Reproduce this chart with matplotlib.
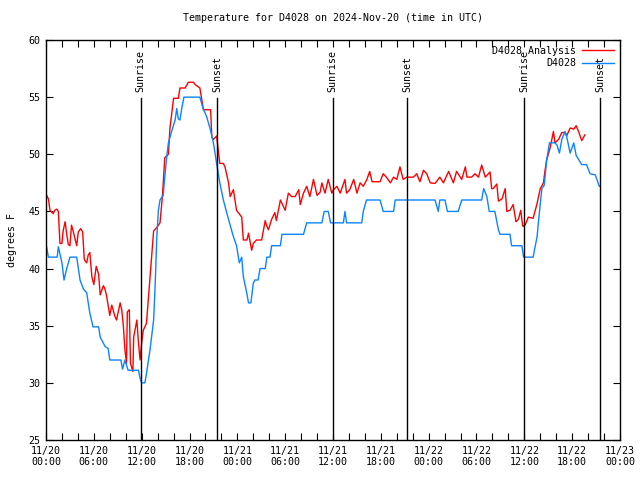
import matplotlib
matplotlib.use("Agg")
import matplotlib.pyplot as plt
from matplotlib.lines import Line2D

# hours since 2024-11-20 00:00 UTC
analysis_t = [0.08,0.3,0.5,0.9,1.1,1.35,1.55,1.75,2.0,2.15,2.4,2.6,2.8,3.0,3.2,3.4,3.65,3.85,4.05,4.35,4.6,4.8,5.1,5.3,5.5,5.75,6.0,6.3,6.6,6.8,7.2,7.4,7.6,8.0,8.25,8.65,8.85,9.3,9.5,9.7,9.9,10.1,10.2,10.45,10.6,10.9,11.0,11.4,11.6,11.8,12.0,12.2,12.6,13.05,13.5,13.9,14.3,14.6,14.9,15.35,15.55,16.0,16.6,16.8,17.45,17.85,18.5,18.7,19.3,19.75,20.65,20.8,21.0,21.4,21.8,22.25,22.45,22.9,23.1,23.5,23.9,24.55,24.75,25.2,25.4,25.8,26.0,26.4,27.05,27.5,27.7,27.9,28.3,28.7,28.9,29.4,29.6,30.0,30.4,30.8,31.25,31.7,31.9,32.3,32.7,33.1,33.55,34.0,34.4,34.6,35.0,35.4,35.85,36.05,36.5,36.9,37.5,37.7,38.1,38.6,39.0,39.4,39.8,40.25,40.6,40.9,41.9,42.3,42.7,43.2,43.6,44.0,44.4,44.8,45.25,46.1,46.5,46.9,47.35,47.75,48.2,48.8,49.4,49.85,50.5,51.1,51.5,52.15,52.6,52.8,53.4,53.8,54.25,54.65,55.1,55.5,55.7,55.9,56.1,56.55,56.75,57.2,57.6,57.8,58.2,58.6,58.95,59.25,59.55,59.8,60.1,60.5,61.1,61.6,62.0,62.4,62.6,62.8,63.25,63.65,63.85,64.3,64.7,65.1,65.3,65.75,66.2,66.5,66.8,67.2,67.6]
analysis_v = [46.4,46.1,45.1,44.8,45.1,45.2,45.0,42.2,42.2,43.3,44.1,43.0,42.1,42.0,43.8,43.3,42.6,42.0,43.2,43.5,43.2,40.8,40.5,41.2,41.4,39.3,38.6,40.2,39.5,37.7,38.5,38.2,37.6,35.9,36.8,35.8,35.5,37.0,36.4,35.0,32.9,31.7,36.2,36.4,31.7,31.0,34.0,35.5,33.5,32.0,33.5,34.6,35.2,39.3,43.3,43.6,44.0,46.3,49.7,50.0,52.3,54.9,54.9,55.8,55.8,56.3,56.3,56.1,55.8,53.9,53.9,51.5,51.3,51.6,49.2,49.2,48.9,47.5,46.3,46.9,45.1,44.5,42.5,42.5,43.1,41.6,42.2,42.5,42.5,44.2,43.7,43.4,44.3,44.9,44.2,46.0,45.7,45.1,46.6,46.3,46.3,46.9,45.6,46.6,47.2,46.3,47.8,46.4,46.7,47.5,46.6,47.8,46.6,46.9,47.2,46.6,47.8,46.6,46.9,47.8,46.6,47.5,47.2,47.8,48.5,47.6,47.6,48.3,48.0,47.5,48.0,47.8,48.9,47.8,48.0,48.0,48.3,47.6,48.6,48.3,47.5,47.45,48.0,47.5,48.5,47.5,48.5,47.8,48.9,48.0,48.0,48.3,48.0,49.06,48.0,48.3,48.45,47.0,47.0,47.4,45.9,46.1,47.0,45.0,45.1,45.6,44.1,44.3,45.1,43.7,43.8,44.5,44.4,45.7,47.0,47.5,48.6,49.5,50.6,52.0,51.0,51.3,51.9,51.9,51.6,52.3,52.2,52.5,52.0,51.2,51.7]

obs_t = [0.08,0.3,1.4,1.55,2.0,2.26,2.6,3.0,3.85,4.27,4.7,5.1,5.5,5.9,6.6,6.8,7.4,7.8,8.0,9.4,9.6,9.9,10.3,11.6,11.8,12.0,12.4,12.6,13.05,13.5,13.7,13.9,14.1,14.3,14.7,14.9,15.15,15.35,15.8,16.2,16.4,16.6,16.8,17.0,17.3,19.3,19.7,20.15,20.6,21.0,21.4,21.8,22.25,22.7,23.1,23.5,23.9,24.25,24.55,24.75,25.2,25.4,25.7,26.0,26.2,26.6,26.85,27.5,27.7,28.1,28.3,29.4,29.6,32.3,32.7,34.6,34.9,35.4,35.7,37.3,37.5,37.7,39.6,39.8,40.2,41.9,42.3,43.6,43.8,48.8,49.2,49.4,50.05,50.35,51.7,52.15,54.65,54.9,55.3,55.6,56.3,56.75,56.95,58.2,58.4,59.7,59.9,61.1,61.6,61.8,62.2,62.5,62.8,63.15,63.85,64.1,64.4,64.7,65.1,65.3,65.75,66.2,66.5,67.2,67.8,68.25,68.9,69.4]
obs_v = [41.9,41.0,41.0,41.9,40.5,39.0,40.0,41.0,41.0,39.0,38.2,37.9,36.1,34.9,34.9,34.0,33.2,33.0,32.0,32.0,31.2,32.0,31.1,31.1,30.4,30.0,30.0,30.8,32.9,35.5,38.7,42.8,45.1,46.0,46.4,48.0,49.8,51.0,52.1,53.0,54.0,53.1,53.0,53.9,55.0,55.0,54.0,53.3,52.2,51.0,49.2,47.5,46.0,44.8,43.8,42.8,42.0,40.5,41.0,39.3,37.8,37.0,37.0,38.7,39.0,39.0,40.0,40.0,41.0,41.0,42.0,42.0,43.0,43.0,44.0,44.0,45.0,45.0,44.0,44.0,45.0,44.0,44.0,45.0,46.0,46.0,45.0,45.0,46.0,46.0,45.0,46.0,46.0,45.0,45.0,46.0,46.0,47.0,46.3,45.0,45.0,43.4,43.0,43.0,42.0,42.0,41.0,41.0,42.8,44.3,47.0,47.3,49.5,51.0,51.0,50.8,50.1,51.3,52.0,51.6,50.1,51.0,49.9,49.1,49.1,48.3,48.2,47.2]

sun_t = [11.9, 21.45, 35.95, 45.3, 59.95, 69.5]
sun_label = ["Sunrise", "Sunset", "Sunrise", "Sunset", "Sunrise", "Sunset"]

xtick_h = [0, 6, 12, 18, 24, 30, 36, 42, 48, 54, 60, 66, 72]
xtick_lbl = ["11/20\n00:00", "11/20\n06:00", "11/20\n12:00", "11/20\n18:00",
             "11/21\n00:00", "11/21\n06:00", "11/21\n12:00", "11/21\n18:00",
             "11/22\n00:00", "11/22\n06:00", "11/22\n12:00", "11/22\n18:00",
             "11/23\n00:00"]
yticks = [25, 30, 35, 40, 45, 50, 55, 60]

plt.rcParams['font.family'] = ['DejaVu Sans Mono']
FS = 7.2

fig = plt.figure(figsize=(6.4, 4.8), dpi=100)
ax = fig.add_axes([46/640, 40/480, 574/640, 400/480])

ax.plot(analysis_t, analysis_v, color='#ff0000', lw=1.0, label='D4028 Analysis')
ax.plot(obs_t, obs_v, color='#0a84ff', lw=1.0, label='D4028')

for t, lab in zip(sun_t, sun_label):
    ax.plot([t, t], [25, 54.9], color='black', lw=1.0)
    ax.text(t, 55.45, lab, rotation=90, ha='center', va='bottom', fontsize=FS)

ax.set_xlim(0, 72)
ax.set_ylim(25, 60)
ax.set_xticks(xtick_h)
ax.set_xticklabels(xtick_lbl, fontsize=FS)
ax.set_xticks(list(range(0, 73, 2)), minor=True)
ax.set_yticks(yticks)
ax.set_yticklabels([str(v) for v in yticks], fontsize=FS)
ax.tick_params(which='both', direction='in', top=True, right=True, length=5, width=0.8, pad=4)
ax.tick_params(which='minor', length=5)
for s in ax.spines.values():
    s.set_linewidth(1.0)

ax.set_ylabel('degrees F', fontsize=FS, labelpad=8)
ax.set_title('Temperature for D4028 on 2024-Nov-20 (time in UTC)', fontsize=FS, pad=14)

leg = ax.legend(loc='upper right', frameon=False, markerfirst=False, fontsize=FS,
                handlelength=3.2, borderaxespad=0.2, labelspacing=0.25, handletextpad=0.6)

fig.savefig('out.png', dpi=100)
